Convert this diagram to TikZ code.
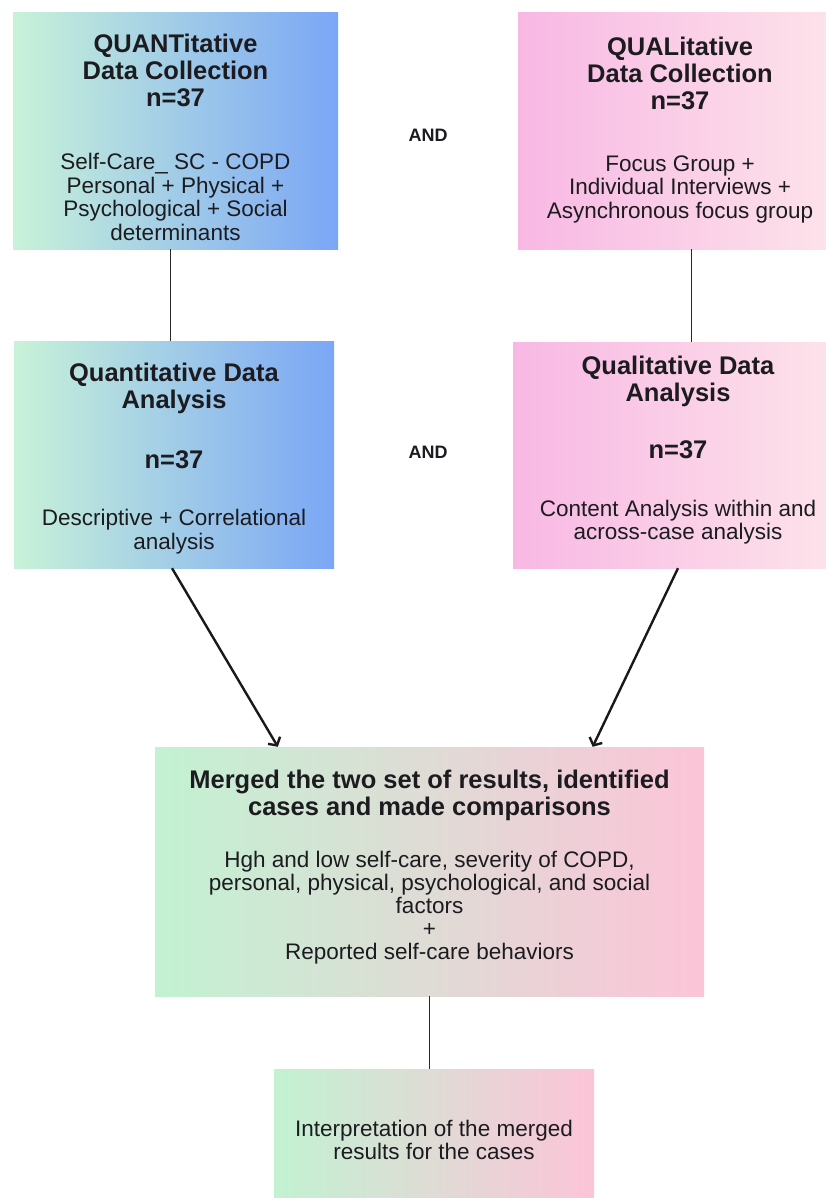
\documentclass[tikz,border=0pt]{standalone}
\usepackage{fontspec}
\setmainfont{Liberation Sans}
\usepackage{tikz}
\usetikzlibrary{calc,arrows.meta}

\definecolor{quantL}{RGB}{200,242,216}
\definecolor{quantR}{RGB}{122,166,246}
\definecolor{qualL}{RGB}{248,184,228}
\definecolor{qualR}{RGB}{253,228,234}
\definecolor{mergL}{RGB}{194,242,210}
\definecolor{mergR}{RGB}{252,196,216}
\definecolor{txt}{RGB}{28,28,32}
\definecolor{linec}{RGB}{40,40,40}

\newcommand{\hd}{\fontsize{25.5}{27}\selectfont\bfseries}
\newcommand{\bd}{\fontsize{22.5}{23.5}\selectfont}

\begin{document}
\begin{tikzpicture}
    [x=1pt,y=-1pt,
     box/.style={inner sep=0pt,align=flush center,text=txt},
     quant/.style={box,left color=quantL,right color=quantR},
     qual/.style={box,left color=qualL,right color=qualR},
     merge/.style={box,left color=mergL,right color=mergR},
     link/.style={draw=linec,line width=1pt},
     flow/.style={draw=black!90,line width=2.4pt,-{Straight Barb[length=6pt,width=14pt]}}]

    \useasboundingbox (0,0) rectangle (826,1198);
    \clip (0,0) rectangle (826,1198);

    % collection
    \node[quant,minimum width=325pt,minimum height=236pt,text width=315pt] (tl) at (175.5,131)
      {{\hd QUANTitative\\ Data Collection\\ n=37\par}\vspace{39.5pt}
       {\bd Self-Care\_ SC - COPD\\ Personal + Physical +\\ Psychological + Social\\ determinants\par}\vspace{-13pt}};
    \node[qual,minimum width=324pt,minimum height=236pt,text width=314pt] (tr) at (680,131)
      {{\hd QUALitative\\ Data Collection\\ n=37\par}\vspace{38.5pt}
       {\bd Focus Group +\\ Individual Interviews +\\ Asynchronous focus group\par}\vspace{2pt}};
    \node[font=\fontsize{18}{20}\selectfont\bfseries,text=txt] (and1) at (428,135) {AND};

    % analysis
    \node[quant,minimum width=320pt,minimum height=227pt,text width=310pt] (ml) at (174,454.5)
      {{\hd Quantitative Data\\ Analysis\par}\vspace{33pt}
       {\hd n=37\par}\vspace{33.5pt}
       {\bd Descriptive + Correlational\\ analysis\par}\vspace{-8pt}};
    \node[qual,minimum width=330pt,minimum height=226pt,text width=320pt] (mr) at (678,455)
      {{\hd Qualitative Data\\ Analysis\par}\vspace{30pt}
       {\hd n=37\par}\vspace{34.5pt}
       {\bd Content Analysis within and\\ across-case analysis\par}\vspace{10pt}};
    \node[font=\fontsize{18}{20}\selectfont\bfseries,text=txt] (and2) at (428,452) {AND};

    % merging
    \node[merge,minimum width=549pt,minimum height=249pt,text width=539pt] (merged) at (429.5,871.5)
      {{\hd Merged the two set of results, identified\\ cases and made comparisons\par}\vspace{29pt}
       {\bd\baselineskip=23pt Hgh and low self-care, severity of COPD,\\ personal, physical, psychological, and social\\
        factors\\ +\\ Reported self-care behaviors\par}\vspace{9pt}};
    \node[merge,minimum width=320pt,minimum height=142pt,text width=310pt] (interp) at (434,1140)
      {{\bd Interpretation of the merged\\ results for the cases\par}};

    \draw[link] ([xshift=-5pt]tl.south) -- ([xshift=-5pt]tl.south |- ml.north);
    \draw[link] ([xshift=11pt]tr.south) -- ([xshift=11pt]tr.south |- mr.north);
    \draw[flow] ([xshift=-2pt]ml.south) -- ($(merged.north west)!0.224!(merged.north east)$);
    \draw[flow] (mr.south) -- ($(merged.north west)!0.797!(merged.north east)$);
    \draw[link] (merged.south) -- (merged.south |- interp.north);
  \end{tikzpicture}
\end{document}
